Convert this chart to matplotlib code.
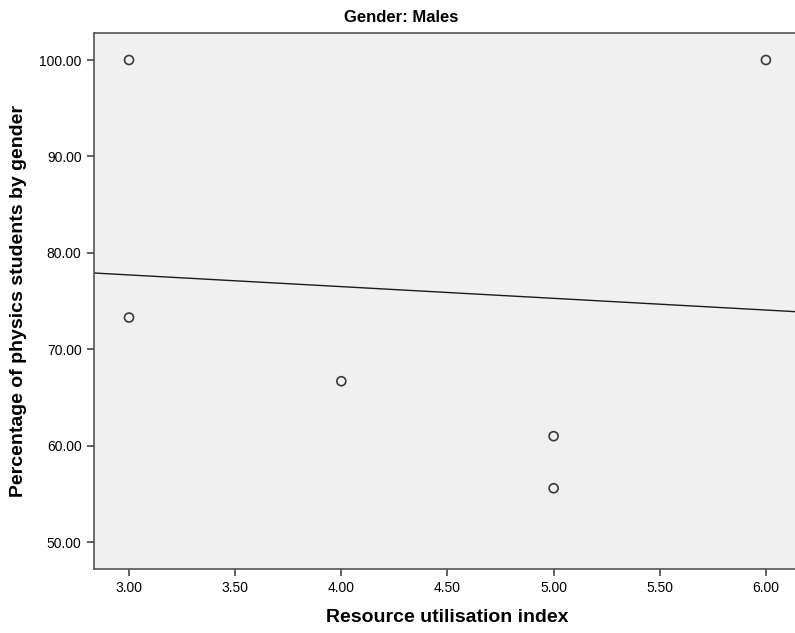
import numpy as np
import matplotlib.pyplot as plt

plt.rcParams['font.family'] = ['Liberation Sans', 'DejaVu Sans']

resource_index = [3.0, 3.0, 4.0, 5.0, 5.0, 6.0]
pct_physics = [100.0, 73.3, 66.7, 61.0, 55.6, 100.0]
x_ticks = [3.0, 3.5, 4.0, 4.5, 5.0, 5.5, 6.0]
y_ticks = [50.0, 60.0, 70.0, 80.0, 90.0, 100.0]

fig = plt.figure(figsize=(7.95, 6.33), dpi=100)
ax = fig.add_axes([94 / 795, 64 / 633, 701 / 795, 536 / 633])
ax.set_facecolor('#f0f0f0')

ax.scatter(resource_index, pct_physics, s=42, facecolors='none',
           edgecolors='#3a3a3a', linewidths=1.2, zorder=3)

# linear fit line across whole axis
xmin, xmax = 2.835, 6.137
slope, intercept = np.polyfit(resource_index, pct_physics, 1)
xs = np.array([xmin, xmax])
ax.plot(xs, slope * xs + intercept, color='#1a1a1a', linewidth=1.0, zorder=2)

ax.set_xlim(xmin, xmax)
ax.set_ylim(47.23, 102.8)
ax.set_xticks(x_ticks)
ax.set_yticks(y_ticks)
ax.set_xticklabels([f'{v:.2f}' for v in x_ticks])
ax.set_yticklabels([f'{v:.2f}' for v in y_ticks])
ax.tick_params(labelsize=10, length=5, width=1.2, color='#444444', pad=4)

ax.spines['right'].set_visible(False)
for side in ['left', 'bottom', 'top']:
    ax.spines[side].set_color('#555555')
    ax.spines[side].set_linewidth(1.2)

fig.text(401 / 795, 1 - 18 / 633, 'Gender: Males', ha='center', va='center',
         fontsize=12, fontweight='bold')
fig.text(447 / 795, 1 - 618 / 633, 'Resource utilisation index', ha='center',
         va='center', fontsize=14, fontweight='bold')
fig.text(19 / 795, 1 - 301 / 633, 'Percentage of physics students by gender',
         ha='center', va='center', rotation=90, fontsize=14, fontweight='bold')

fig.savefig('out.png', dpi=100)
